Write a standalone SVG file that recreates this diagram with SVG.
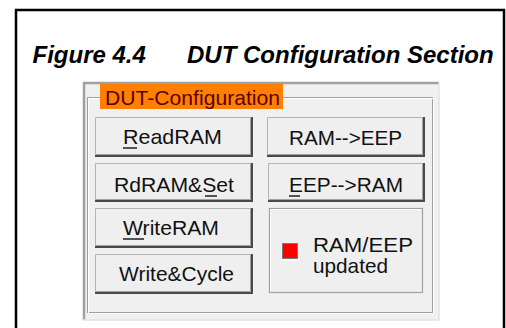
<svg xmlns="http://www.w3.org/2000/svg" width="506" height="328" viewBox="0 0 506 328">
<style>
.title{font-family:"Liberation Sans",Arial,sans-serif;font-size:24px;font-weight:bold;font-style:italic;fill:#000}
.btxt{font-family:"Liberation Sans",Arial,sans-serif;font-size:21px;fill:#111}
.face{fill:#efefef}
.hi{fill:none;stroke:#b4b4b4;stroke-width:1}
.sh{fill:none;stroke:#4a4a4a;stroke-width:2}
.sh2{fill:none;stroke:#a0a0a0;stroke-width:1}
.ul{stroke:#111;stroke-width:1.4}
</style>
<rect x="0" y="0" width="506" height="328" fill="#fff"/>
<rect x="16" y="10" width="488" height="340" fill="none" stroke="#000" stroke-width="2.5"/>
<text class="title" x="32.5" y="63">Figure 4.4</text>
<text class="title" x="187" y="63">DUT Configuration Section</text>
<g id="panel">
<rect x="83" y="82" width="356" height="238" fill="#f0f0f0"/>
<polyline points="84,320 84,83 439,83" fill="none" stroke="#a0a0a0" stroke-width="2.5"/>
<polyline points="439,82 439,320 83,320" fill="none" stroke="#e2e2e2" stroke-width="1.5"/>
<rect x="87.5" y="97.5" width="345" height="215" fill="none" stroke="#a0a0a0" stroke-width="1"/>
<rect x="88.5" y="98.5" width="345" height="215" fill="none" stroke="#ffffff" stroke-width="1"/>
<rect x="100" y="84" width="183" height="25" fill="#ff8000"/>
<text x="105" y="105" font-family="'Liberation Sans',Arial,sans-serif" font-size="21" fill="#5a0000" textLength="175" lengthAdjust="spacingAndGlyphs">DUT-Configuration</text>
</g>
<g id="btn-readram">
<rect class="face" x="95" y="117" width="157" height="39"/>
<polyline class="hi" points="95.5,155 95.5,117.5 251,117.5"/>
<polyline class="sh2" points="96,154.5 250.5,154.5 250.5,118"/>
<polyline class="sh" points="95,156 252,156 252,117"/>
<text class="btxt" x="123" y="144" textLength="99" lengthAdjust="spacingAndGlyphs">ReadRAM</text>
<line class="ul" x1="123" y1="148" x2="137" y2="148"/>
</g>
<g id="btn-rdramset">
<rect class="face" x="95" y="163" width="157" height="38"/>
<polyline class="hi" points="95.5,200 95.5,163.5 251,163.5"/>
<polyline class="sh2" points="96,199.5 250.5,199.5 250.5,164"/>
<polyline class="sh" points="95,201 252,201 252,163"/>
<text class="btxt" x="114" y="191.5" textLength="120" lengthAdjust="spacingAndGlyphs">RdRAM&amp;Set</text>
<line class="ul" x1="205" y1="196" x2="217" y2="196"/>
</g>
<g id="btn-writeram">
<rect class="face" x="95" y="208" width="157" height="39"/>
<polyline class="hi" points="95.5,246 95.5,208.5 251,208.5"/>
<polyline class="sh2" points="96,245.5 250.5,245.5 250.5,209"/>
<polyline class="sh" points="95,247 252,247 252,208"/>
<text class="btxt" x="123" y="235" textLength="96" lengthAdjust="spacingAndGlyphs">WriteRAM</text>
<line class="ul" x1="123" y1="239" x2="144" y2="239"/>
</g>
<g id="btn-writecycle">
<rect class="face" x="95" y="254" width="157" height="39"/>
<polyline class="hi" points="95.5,292 95.5,254.5 251,254.5"/>
<polyline class="sh2" points="96,291.5 250.5,291.5 250.5,255"/>
<polyline class="sh" points="95,293 252,293 252,254"/>
<text class="btxt" x="119" y="280.5" textLength="115" lengthAdjust="spacingAndGlyphs">Write&amp;Cycle</text>
</g>
<g id="btn-ram2eep">
<rect class="face" x="267" y="117" width="157" height="39"/>
<polyline class="hi" points="267.5,155 267.5,117.5 423,117.5"/>
<polyline class="sh2" points="268,154.5 422.5,154.5 422.5,118"/>
<polyline class="sh" points="267,156 424,156 424,117"/>
<text class="btxt" x="289" y="144.5" textLength="113" lengthAdjust="spacingAndGlyphs">RAM--&gt;EEP</text>
</g>
<g id="btn-eep2ram">
<rect class="face" x="268" y="163" width="156" height="38"/>
<polyline class="hi" points="268.5,200 268.5,163.5 423,163.5"/>
<polyline class="sh2" points="269,199.5 422.5,199.5 422.5,164"/>
<polyline class="sh" points="268,201 424,201 424,163"/>
<text class="btxt" x="289" y="191.5" textLength="114" lengthAdjust="spacingAndGlyphs">EEP--&gt;RAM</text>
<line class="ul" x1="289" y1="196" x2="300" y2="196"/>
</g>
<g id="status">
<rect x="269.5" y="208.5" width="153" height="84" fill="#efefef" stroke="#a0a0a0" stroke-width="1.2"/>
<polyline points="270.5,291.5 270.5,209.5 421.5,209.5" fill="none" stroke="#fff" stroke-width="1"/>
<rect x="282.5" y="243.5" width="15" height="15" fill="#ff0000" stroke="#7a7a7a" stroke-width="1"/>
<polyline points="282,260 299,260 299,243" fill="none" stroke="#fff" stroke-width="1"/>
<text class="btxt" x="313" y="252" textLength="100" lengthAdjust="spacingAndGlyphs">RAM/EEP</text>
<text class="btxt" x="313" y="273" textLength="75" lengthAdjust="spacingAndGlyphs">updated</text>
</g>
</svg>
